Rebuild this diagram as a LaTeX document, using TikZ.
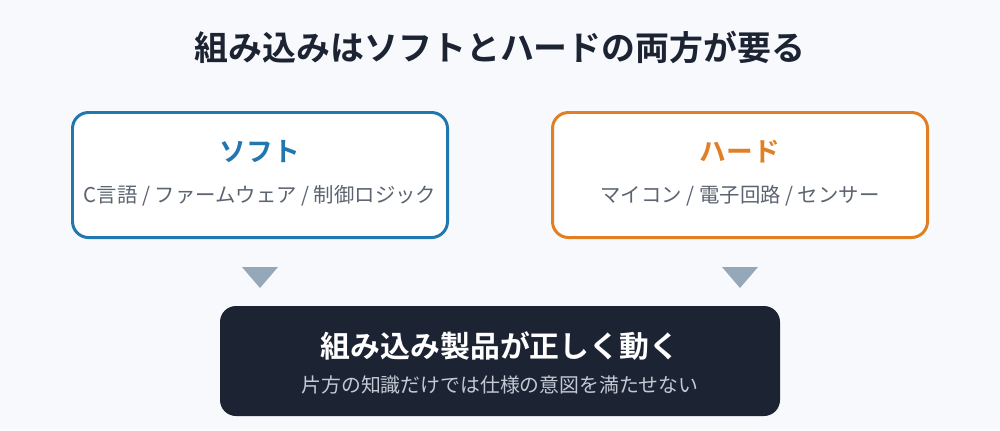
\documentclass[tikz,border=0pt]{standalone}
\usepackage{fontspec}
\setmainfont{Noto Sans CJK JP}
\newfontfamily\jpbold{Noto Sans CJK JP Bold}
\usepackage{tikz}
\usetikzlibrary{calc}
\definecolor{bgcol}{HTML}{F7F9FC}
\definecolor{softcol}{HTML}{2377B0}
\definecolor{hardcol}{HTML}{E07F24}
\definecolor{inkcol}{HTML}{1C2433}
\definecolor{subcol}{HTML}{5B6470}
\definecolor{arrowcol}{HTML}{94A8BA}
\definecolor{lightcol}{HTML}{C3CAD4}
\tikzset{
	panel/.style={line width=1.7pt, fill=white, rounded corners=0.32cm},
	headtext/.style={font=\jpbold\fontsize{15.2}{17}\selectfont},
	subtext/.style={font=\fontsize{11.6}{13}\selectfont, text=subcol},
	pointer/.style={fill=arrowcol, draw=none}
}

\begin{document}
\begin{tikzpicture}[x=0.02cm, y=-0.02cm]
		%%%%% START %%%%%
		
		\fill[bgcol] (0, 0) rectangle (1000, 430);
		\useasboundingbox (0, 0) rectangle (1000, 430);
		
		\node[font=\jpbold\fontsize{19.3}{22}\selectfont, text=inkcol] (title) at (500, 47) {組み込みはソフトとハードの両方が要る};
		
		% soft side
		\draw[panel, draw=softcol] (72.5, 112.5) rectangle (447.5, 237.5);
		\node[headtext, text=softcol] (soft) at (260, 152) {ソフト};
		\node[subtext] (softsub) at (260, 196) {C言語 / ファームウェア / 制御ロジック};
		
		% hard side
		\draw[panel, draw=hardcol] (552.5, 112.5) rectangle (927.5, 237.5);
		\node[headtext, text=hardcol] (hard) at (740, 152) {ハード};
		\node[subtext] (hardsub) at (740, 196) {マイコン / 電子回路 / センサー};
		
		\fill[pointer] (242, 267) -- (278, 267) -- (260, 288) -- cycle;
		\fill[pointer] (722, 267) -- (758, 267) -- (740, 288) -- cycle;
		
		% result
		\fill[inkcol, rounded corners=0.32cm] (220, 306) rectangle (780, 416);
		\node[font=\jpbold\fontsize{17}{20}\selectfont, text=white] (result) at (500, 346) {組み込み製品が正しく動く};
		\node[font=\fontsize{11.3}{13}\selectfont, text=lightcol] (resultsub) at (500, 385) {片方の知識だけでは仕様の意図を満たせない};
		
		%%%%% END %%%%%
	\end{tikzpicture}
\end{document}
